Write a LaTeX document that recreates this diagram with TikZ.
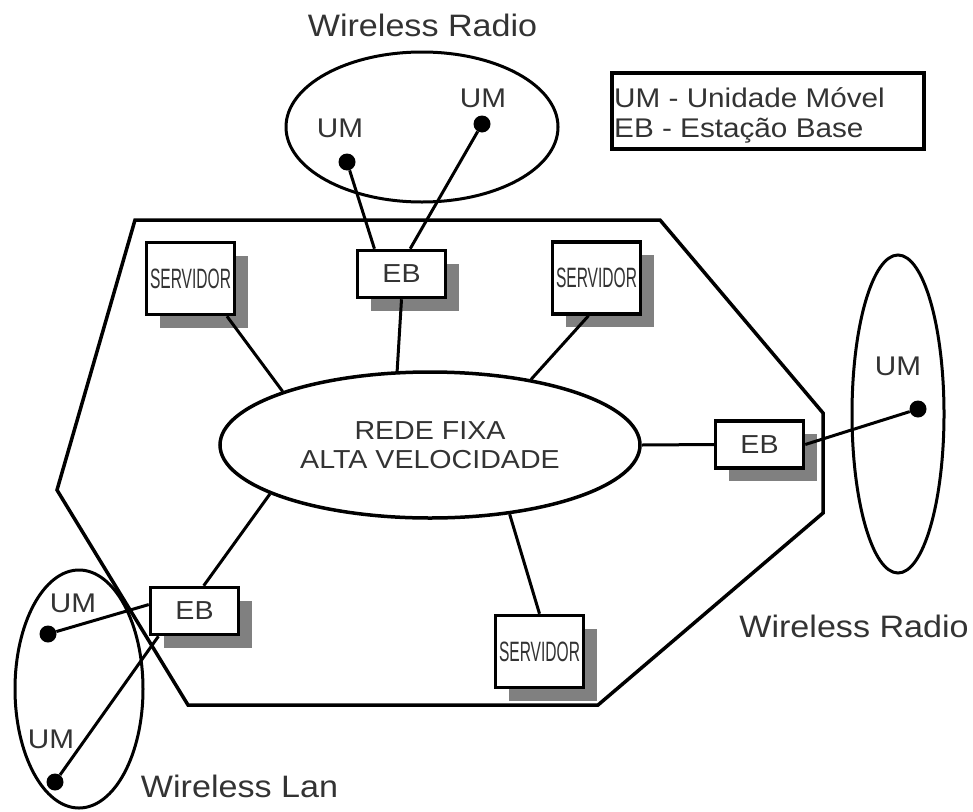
\documentclass[tikz,border=0pt]{standalone}
\usepackage{fontspec}
\setmainfont[FakeStretch=1.1]{Liberation Sans}
\usepackage{graphicx}
\usetikzlibrary{shapes.geometric,shadows}

% narrow label used inside the server boxes
\newcommand{\srvtext}{\resizebox{81pt}{\height}{SERVIDOR}}

\begin{document}
\begin{tikzpicture}[x=1pt,y=-1pt,
  txt/.style={text=black!80, inner sep=0pt, font=\fontsize{27}{30}\selectfont},
  wlabel/.style={txt, anchor=base, font=\fontsize{31}{34}\selectfont},
  um/.style={txt, anchor=base},
  dot/.style={circle, fill=black, inner sep=0pt, minimum size=17pt},
  cell/.style={ellipse, draw, line width=3pt, inner sep=0pt},
  link/.style={line width=3pt},
  box/.style={draw, line width=3.5pt, fill=white, inner sep=0pt, text=black!80,
    drop shadow={shadow xshift=13pt, shadow yshift=-13pt, fill=black!50, opacity=1}},
  ebbox/.style={box, minimum width=88pt, minimum height=47pt, font=\fontsize{26}{28}\selectfont},
  srvbox/.style={box, minimum width=88pt, minimum height=72pt, font=\fontsize{28}{30}\selectfont},
]
\useasboundingbox (0,0) rectangle (973,811);

% boundary of the fixed network
\draw[line width=3.5pt, line join=miter]
  (135,220) -- (660,220) -- (823,413) -- (823,513) -- (598,705)
  -- (188,705) -- (57,490) -- cycle;

% high speed backbone
\node[cell, line width=3.5pt, minimum width=420pt, minimum height=146pt, align=center,
      text=black!80, font=\fontsize{26}{32}\selectfont] (net) at (430,445)
  {\raisebox{-3pt}{REDE FIXA}\\ALTA VELOCIDADE};

% base stations and servers
\node[ebbox] (ebT) at (401.5,274) {EB};
\node[ebbox] (ebR) at (759.5,444.5) {EB};
\node[ebbox] (ebL) at (194.5,611) {EB};
\node[srvbox] (srvA) at (190.5,278.5) {\srvtext};
\node[srvbox] (srvB) at (596.5,278) {\srvtext};
\node[srvbox] (srvC) at (539.5,651.5) {\srvtext};

% radio cells
\node[cell, minimum width=272pt, minimum height=150pt] (cellT) at (422,127) {};
\node[cell, minimum width=92pt, minimum height=318pt] (cellR) at (898,414) {};
\node[cell, minimum width=128pt, minimum height=238pt] (cellL) at (79,689) {};

% mobile units
\node[dot] (umT1) at (347,162) {};
\node[dot] (umT2) at (482,124) {};
\node[dot] (umR) at (918,409) {};
\node[dot] (umL1) at (48,634) {};
\node[dot] (umL2) at (55,782) {};

\node[um] (lblT1) at (340,137) {UM};
\node[um] (lblT2) at (483,107) {UM};
\node[um] (lblR) at (898,375) {UM};
\node[um] (lblL1) at (73,612) {UM};
\node[um] (lblL2) at (51,748) {UM};

% cell names
\node[wlabel] (nameT) at (422.5,36) {Wireless Radio};
\node[wlabel] (nameR) at (854,637) {Wireless Radio};
\node[wlabel] (nameL) at (239.5,797) {Wireless Lan};

% legend
\node[draw, line width=3.5pt, minimum width=312pt, minimum height=76pt, inner sep=0pt] (legend) at (768,111) {};
\node[txt, anchor=base west] (leg1) at (614,107) {UM - Unidade Móvel};
\node[txt, anchor=base west] (leg2) at (614,137) {EB - Estação Base};

% links
\draw[link] (umT1) -- (ebT.137);
\draw[link] (umT2) -- (ebT.71);
\draw[link] (ebT.south) -- (net.114);
\draw[link] (srvA.-46) -- (net.160);
\draw[link] (srvB.-102) -- (net.33);
\draw[link] (net.east) -- (ebR.west);
\draw[link] (ebR.east) -- (umR);
\draw[link] (srvC.north) -- (net.-41);
\draw[link] (ebL.70) -- (net.-163);
\draw[link] (umL1) -- (ebL.172);
\draw[link] (umL2) -- (ebL.-145);
\end{tikzpicture}
\end{document}
